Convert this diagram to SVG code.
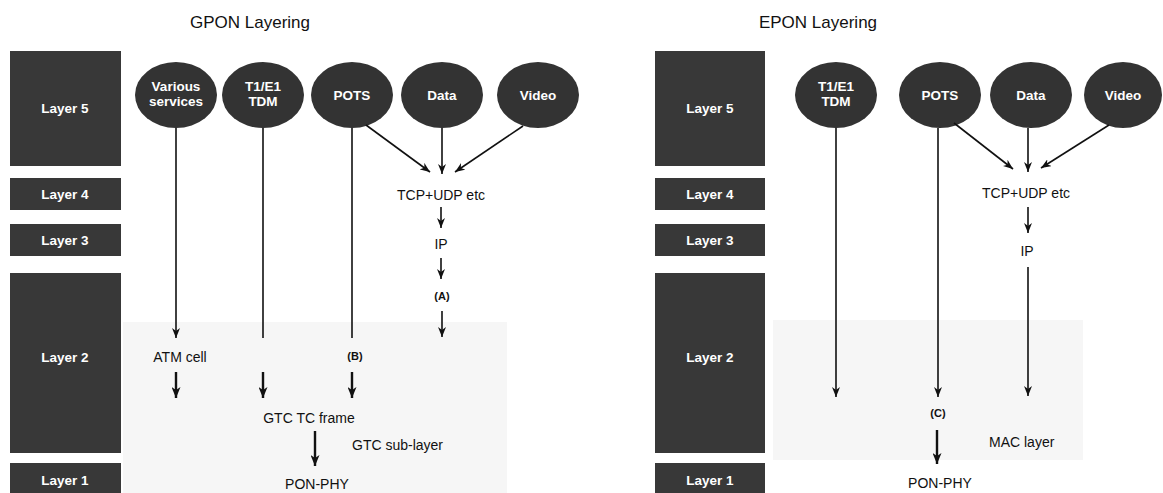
<svg xmlns="http://www.w3.org/2000/svg" width="1163" height="493" viewBox="0 0 1163 493">
<style>
.layer{fill:#383838}
.svc{fill:#333333}
.lt{font-family:"Liberation Sans",Arial,sans-serif;font-weight:bold;font-size:13.5px;fill:#ffffff;text-anchor:middle}
.st{font-family:"Liberation Sans",Arial,sans-serif;font-weight:bold;font-size:13.5px;fill:#ffffff;text-anchor:middle}
.lbl{font-family:"Liberation Sans",Arial,sans-serif;font-size:14px;fill:#111111;text-anchor:middle}
.lbll{font-family:"Liberation Sans",Arial,sans-serif;font-size:14px;fill:#111111;text-anchor:start}
.sm{font-family:"Liberation Sans",Arial,sans-serif;font-size:11px;font-weight:bold;fill:#111111;text-anchor:middle}
.title{font-family:"Liberation Sans",Arial,sans-serif;font-size:17px;fill:#111111;text-anchor:middle}
.ln{stroke:#111111;stroke-width:1.6;fill:none}
.ar{stroke:#111111;stroke-width:1.6;fill:none;marker-end:url(#ah)}
.arb{stroke:#111111;stroke-width:2.4;fill:none;marker-end:url(#ahb)}
.bg{fill:#f6f6f6}
</style>
<defs>
<marker id="ah" markerWidth="10" markerHeight="8" refX="10" refY="4" orient="auto" markerUnits="userSpaceOnUse">
<path d="M0,0 L10,4 L0,8 L3,4 z" fill="#111111"/>
</marker>
<marker id="ahb" markerWidth="11" markerHeight="9" refX="11" refY="4.5" orient="auto" markerUnits="userSpaceOnUse">
<path d="M0,0 L11,4.5 L0,9 L3,4.5 z" fill="#111111"/>
</marker>
</defs>
<rect width="1163" height="493" fill="#ffffff"/>

<g id="backgrounds">
<rect class="bg" x="123" y="322" width="384" height="171"/>
<rect class="bg" x="773" y="320" width="310" height="140"/>
</g>

<text class="title" x="250" y="28">GPON Layering</text>
<text class="title" x="818" y="28">EPON Layering</text>

<!-- GPON layers -->
<g id="g-layer5"><rect class="layer" x="10" y="51" width="111" height="115"/><text class="lt" x="65" y="113">Layer 5</text></g>
<g id="g-layer4"><rect class="layer" x="10" y="178" width="111" height="32"/><text class="lt" x="65" y="199">Layer 4</text></g>
<g id="g-layer3"><rect class="layer" x="10" y="224" width="111" height="32"/><text class="lt" x="65" y="245">Layer 3</text></g>
<g id="g-layer2"><rect class="layer" x="10" y="273" width="111" height="180"/><text class="lt" x="65" y="362">Layer 2</text></g>
<g id="g-layer1"><rect class="layer" x="10" y="463" width="111" height="30"/><text class="lt" x="65" y="485">Layer 1</text></g>

<!-- GPON services -->
<g id="g-various"><ellipse class="svc" cx="176" cy="95" rx="41" ry="33"/><text class="st" x="176" y="91">Various</text><text class="st" x="176" y="106">services</text></g>
<g id="g-t1e1"><ellipse class="svc" cx="263" cy="95" rx="41" ry="33"/><text class="st" x="263" y="91">T1/E1</text><text class="st" x="263" y="106">TDM</text></g>
<g id="g-pots"><ellipse class="svc" cx="352" cy="95" rx="41" ry="33"/><text class="st" x="352" y="100">POTS</text></g>
<g id="g-data"><ellipse class="svc" cx="442" cy="95" rx="41" ry="33"/><text class="st" x="442" y="100">Data</text></g>
<g id="g-video"><ellipse class="svc" cx="538" cy="95" rx="41" ry="33"/><text class="st" x="538" y="100">Video</text></g>

<g id="g-labels">
<text class="lbl" x="441" y="200">TCP+UDP etc</text>
<text class="lbl" x="441" y="249">IP</text>
<text class="sm" x="442" y="300">(A)</text>
<text class="lbl" x="180" y="362">ATM cell</text>
<text class="sm" x="355" y="360">(B)</text>
<text class="lbl" x="309" y="423">GTC TC frame</text>
<text class="lbll" x="352" y="450">GTC sub-layer</text>
<text class="lbl" x="317" y="489">PON-PHY</text>
</g>

<!-- EPON layers -->
<g id="e-layer5"><rect class="layer" x="655" y="51" width="110" height="115"/><text class="lt" x="710" y="113">Layer 5</text></g>
<g id="e-layer4"><rect class="layer" x="655" y="178" width="110" height="32"/><text class="lt" x="710" y="199">Layer 4</text></g>
<g id="e-layer3"><rect class="layer" x="655" y="224" width="110" height="32"/><text class="lt" x="710" y="245">Layer 3</text></g>
<g id="e-layer2"><rect class="layer" x="655" y="273" width="110" height="180"/><text class="lt" x="710" y="362">Layer 2</text></g>
<g id="e-layer1"><rect class="layer" x="655" y="463" width="110" height="30"/><text class="lt" x="710" y="485">Layer 1</text></g>

<!-- EPON services -->
<g id="e-t1e1"><ellipse class="svc" cx="836" cy="95" rx="41" ry="33"/><text class="st" x="836" y="91">T1/E1</text><text class="st" x="836" y="106">TDM</text></g>
<g id="e-pots"><ellipse class="svc" cx="940" cy="95" rx="41" ry="33"/><text class="st" x="940" y="100">POTS</text></g>
<g id="e-data"><ellipse class="svc" cx="1031" cy="95" rx="41" ry="33"/><text class="st" x="1031" y="100">Data</text></g>
<g id="e-video"><ellipse class="svc" cx="1123" cy="95" rx="39" ry="33"/><text class="st" x="1123" y="100">Video</text></g>

<g id="e-labels">
<text class="lbl" x="1026" y="198">TCP+UDP etc</text>
<text class="lbl" x="1027" y="256">IP</text>
<text class="sm" x="938" y="417">(C)</text>
<text class="lbll" x="989" y="447">MAC layer</text>
<text class="lbl" x="940" y="488">PON-PHY</text>
</g>

<g id="connectors">
<!-- GPON -->
<line class="ar" x1="176" y1="128" x2="176" y2="338"/>
<line class="ln" x1="263" y1="128" x2="263" y2="338"/>
<line class="ln" x1="352" y1="128" x2="352" y2="338"/>
<line class="ar" x1="366" y1="125" x2="430" y2="172"/>
<line class="ar" x1="442" y1="128" x2="442" y2="174"/>
<line class="ar" x1="523" y1="126" x2="455" y2="172"/>
<line class="ar" x1="441" y1="207" x2="441" y2="228"/>
<line class="ar" x1="441" y1="258" x2="441" y2="279"/>
<line class="ar" x1="442" y1="311" x2="442" y2="337"/>
<line class="arb" x1="176" y1="372" x2="176" y2="398"/>
<line class="arb" x1="263" y1="372" x2="263" y2="398"/>
<line class="arb" x1="352" y1="372" x2="352" y2="398"/>
<line class="arb" x1="315" y1="431" x2="315" y2="466"/>
<!-- EPON -->
<line class="ar" x1="836" y1="128" x2="836" y2="397"/>
<line class="ar" x1="938" y1="128" x2="938" y2="397"/>
<line class="ar" x1="954" y1="123" x2="1013" y2="169"/>
<line class="ar" x1="1028" y1="128" x2="1028" y2="172"/>
<line class="ar" x1="1109" y1="125" x2="1041" y2="168"/>
<line class="ar" x1="1028" y1="207" x2="1028" y2="233"/>
<line class="ar" x1="1028" y1="267" x2="1028" y2="396"/>
<line class="arb" x1="937" y1="430" x2="937" y2="464"/>
</g>
</svg>
